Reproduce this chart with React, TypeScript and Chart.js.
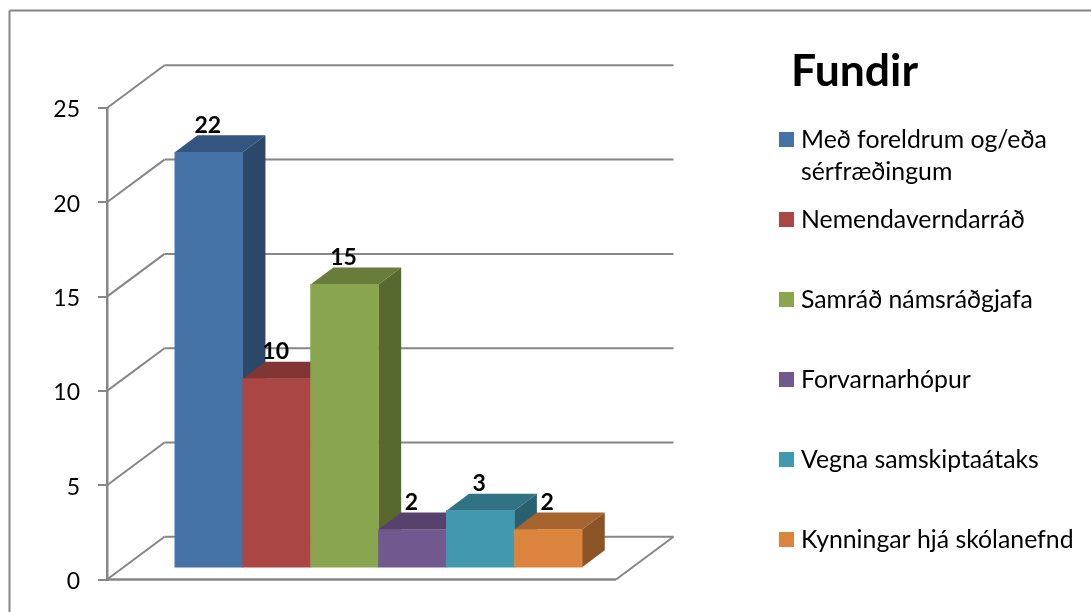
import React, { useEffect, useRef } from "react";
import { Chart, registerables } from "chart.js";

Chart.register(...registerables);

const chartTitle = "Fundir";
const categories = [
  "Með foreldrum og/eða sérfræðingum",
  "Nemendaverndarráð",
  "Samráð námsráðgjafa",
  "Forvarnarhópur",
  "Vegna samskiptaátaks",
  "Kynningar hjá skólanefnd",
];
const legendLines = [
  ["Með foreldrum og/eða", "sérfræðingum"],
  ["Nemendaverndarráð"],
  ["Samráð námsráðgjafa"],
  ["Forvarnarhópur"],
  ["Vegna samskiptaátaks"],
  ["Kynningar hjá skólanefnd"],
];
const meetingCounts = [22, 10, 15, 2, 3, 2];
const frontColors = ["#4572A7", "#AA4643", "#89A54E", "#71588F", "#4198AF", "#DB843D"];
const topColors = ["#34557F", "#813534", "#687D3B", "#56426D", "#317285", "#A6642E"];
const sideColors = ["#2C4868", "#6C2C2B", "#57692F", "#48375B", "#29606F", "#8B5427"];

const AXIS_COLOR = "#868686";
const FONT = "Lato, Carlito, sans-serif";
const DEPTH_WALL = { x: 57.5, y: 42.7 };
const DEPTH_BAR = { x: 22.7, y: 17 };

const line = (ctx: CanvasRenderingContext2D, x0: number, y0: number, x1: number, y1: number, w = 2) => {
  ctx.lineWidth = w;
  ctx.strokeStyle = AXIS_COLOR;
  ctx.beginPath();
  ctx.moveTo(x0, y0);
  ctx.lineTo(x1, y1);
  ctx.stroke();
};

const poly = (ctx: CanvasRenderingContext2D, color: string, pts: number[][]) => {
  ctx.fillStyle = color;
  ctx.beginPath();
  pts.forEach((p, i) => (i ? ctx.lineTo(p[0], p[1]) : ctx.moveTo(p[0], p[1])));
  ctx.closePath();
  ctx.fill();
};

const decor = {
  id: "decor3d",
  beforeDraw(chart: any) {
    const { ctx, width, height } = chart;
    ctx.save();
    ctx.fillStyle = "#fff";
    ctx.fillRect(0, 0, width, height);
    line(ctx, 9.5, height, 9.5, 10.5, 2);
    line(ctx, 9.5, 10.5, width, 10.5, 2);
    ctx.restore();
  },
  beforeDatasetsDraw(chart: any) {
    const { ctx, chartArea, scales } = chart;
    const { left, right, bottom } = chartArea;
    ctx.save();
    // Walls and floor
    scales.y.ticks.forEach((t: any) => {
      const y = scales.y.getPixelForValue(t.value);
      line(ctx, left, y, left + DEPTH_WALL.x, y - DEPTH_WALL.y);
      line(ctx, left + DEPTH_WALL.x, y - DEPTH_WALL.y, right + DEPTH_WALL.x, y - DEPTH_WALL.y);
    });
    line(ctx, right, bottom, right + DEPTH_WALL.x, bottom - DEPTH_WALL.y);
    line(ctx, left, bottom, right, bottom, 2.5);
    // Side and top faces of the bars
    chart.getDatasetMeta(0).data.forEach((bar: any, i: number) => {
      const l = bar.x - bar.width / 2;
      const r = bar.x + bar.width / 2;
      const t = bar.y;
      const b = bar.base;
      const dx = DEPTH_BAR.x;
      const dy = DEPTH_BAR.y;
      poly(ctx, sideColors[i], [[r, t], [r + dx, t - dy], [r + dx, b - dy], [r, b]]);
      poly(ctx, topColors[i], [[l, t], [l + dx, t - dy], [r + dx, t - dy], [r, t]]);
    });
    ctx.restore();
  },
  afterDatasetsDraw(chart: any) {
    const { ctx } = chart;
    ctx.save();
    // Value labels
    ctx.fillStyle = "#000";
    ctx.textAlign = "center";
    ctx.textBaseline = "alphabetic";
    ctx.font = `bold 23px ${FONT}`;
    chart.getDatasetMeta(0).data.forEach((bar: any, i: number) => {
      ctx.fillText(String(meetingCounts[i]), bar.x - 1, bar.y - 19.5);
    });
    // Title
    ctx.textAlign = "left";
    ctx.font = `bold 44.5px ${FONT}`;
    ctx.fillText(chartTitle, 791, 86);
    // Legend
    ctx.font = `24.8px ${FONT}`;
    legendLines.forEach((lines, i) => {
      const cy = 139.5 + 80 * i;
      ctx.fillStyle = frontColors[i];
      ctx.fillRect(779, cy - 7.5, 15, 15);
      ctx.fillStyle = "#000";
      lines.forEach((txt, j) => ctx.fillText(txt, 801, cy + 8 + 32 * j));
    });
    ctx.restore();
  },
};

export default function App() {
  const ref = useRef<HTMLCanvasElement>(null);
  useEffect(() => {
    const chart = new Chart(ref.current as HTMLCanvasElement, {
      type: "bar",
      data: {
        datasets: [
          {
            label: chartTitle,
            data: meetingCounts.map((v, i) => ({ x: i, y: v, name: categories[i] })),
            backgroundColor: frontColors,
            borderWidth: 0,
            barPercentage: 1,
            categoryPercentage: 1,
            yAxisID: "yBars",
          },
        ],
      },
      options: {
        responsive: false,
        animation: false,
        layout: { padding: { left: 0, top: 108, right: 475, bottom: 32.5 } },
        plugins: { legend: { display: false }, tooltip: { enabled: false }, title: { display: false } },
        scales: {
          x: { type: "linear", display: false, offset: false, min: -1.5, max: 6 },
          y: {
            position: "left",
            min: 0,
            max: 25,
            afterFit: (s: any) => {
              s.width = 107;
            },
            ticks: { stepSize: 5, padding: 18, labelOffset: 2, color: "#000", font: { family: FONT, size: 23 } },
            border: { color: AXIS_COLOR, width: 2.5 },
            grid: { drawOnChartArea: false, tickLength: 9, color: AXIS_COLOR, lineWidth: 2 },
          },
          yBars: { display: false, min: -0.648, max: 24.352 },
        },
      } as any,
      plugins: [decor],
    });
    return () => chart.destroy();
  }, []);
  return (
    <div style={{ position: "absolute", left: 0, top: 0 }}>
      <canvas ref={ref} width={1091} height={612} style={{ display: "block" }} />
    </div>
  );
}
